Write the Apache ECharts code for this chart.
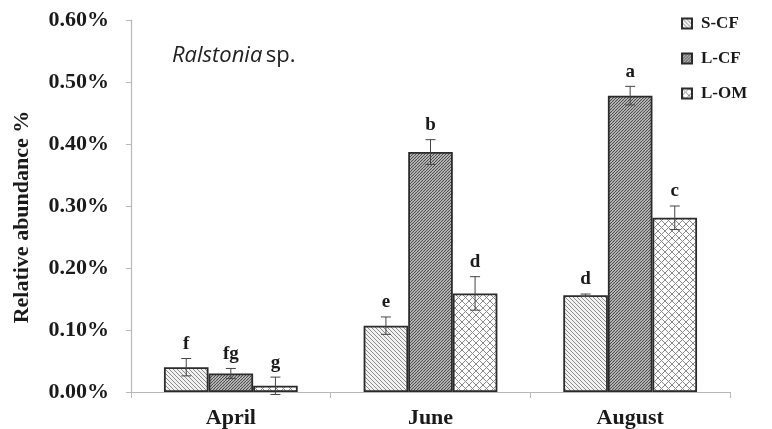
<!DOCTYPE html>
<html>
<head>
<meta charset="utf-8">
<script src="https://cdn.jsdelivr.net/npm/echarts@6/dist/echarts.min.js"></script>
<style>html,body{margin:0;padding:0;background:#fff}#c{width:772px;height:429px}</style>
</head>
<body>
<div id="c"></div>
<script>
const categories = ['April', 'June', 'August'];
const seriesNames = ['S-CF', 'L-CF', 'L-OM'];
const sCF = [0.040, 0.107, 0.156];
const lCF = [0.030, 0.387, 0.478];
const lOM = [0.010, 0.159, 0.281];
const sCFErr = [0.014, 0.014, 0.002];
const lCFErr = [0.008, 0.020, 0.015];
const lOMErr = [0.014, 0.027, 0.019];
const sCFLetters = ['f', 'e', 'd'];
const lCFLetters = ['fg', 'b', 'a'];
const lOMLetters = ['g', 'd', 'c'];
const yTicks = [0, 0.1, 0.2, 0.3, 0.4, 0.5, 0.6];

function hatch(size, bg, fg, lw, dir) {
  const c = document.createElement('canvas');
  c.width = size; c.height = size;
  const g = c.getContext('2d');
  g.fillStyle = bg; g.fillRect(0, 0, size, size);
  g.strokeStyle = fg; g.lineWidth = lw;
  g.beginPath();
  for (let k = -size; k <= size; k += size) {
    if (dir === 'back') { g.moveTo(k, 0); g.lineTo(k + size, size); }
    else { g.moveTo(k, size); g.lineTo(k + size, 0); }
  }
  g.stroke();
  return c;
}
function cross(size, bg, fg, lw) {
  const c = document.createElement('canvas');
  c.width = size; c.height = size;
  const g = c.getContext('2d');
  g.fillStyle = bg; g.fillRect(0, 0, size, size);
  g.strokeStyle = fg; g.lineWidth = lw;
  g.beginPath();
  for (let k = -size; k <= size; k += size) {
    g.moveTo(k, 0); g.lineTo(k + size, size);
    g.moveTo(k, size); g.lineTo(k + size, 0);
  }
  g.stroke();
  return c;
}
const patS = { image: hatch(4, '#f2f2f2', '#8c8c8c', 1, 'back'), repeat: 'repeat' };
const patL = { image: hatch(3, '#d0d0d0', '#4a4a4a', 1.1, 'fwd'), repeat: 'repeat' };
const patO = { image: cross(7, '#ffffff', '#8a8a8a', 1), repeat: 'repeat' };

const values = [sCF, lCF, lOM];
const errs = [sCFErr, lCFErr, lOMErr];
const letters = [sCFLetters, lCFLetters, lOMLetters];
const pats = [patS, patL, patO];
const GAP = 0.33;

const serif = '"Liberation Serif", "Times New Roman", serif';

const series = [];
for (let s = 0; s < 3; s++) {
  series.push({
    name: seriesNames[s], type: 'bar', data: values[s],
    barGap: '0%', barCategoryGap: (GAP * 100) + '%',
    itemStyle: { color: pats[s], borderColor: '#2b2b2b', borderWidth: 1.8 },
    emphasis: { disabled: true }
  });
}
for (let s = 0; s < 3; s++) {
  series.push({
    type: 'custom', z: 5, silent: true,
    data: categories.map((c, i) => [i, values[s][i], errs[s][i]]),
    renderItem: function (params, api) {
      const i = api.value(0), v = api.value(1), e = api.value(2);
      const base = api.coord([i, v]);
      const bw = api.size([1, 0])[0];
      const barW = bw * (1 - GAP) / 3;
      const cx = base[0] + (s - 1) * barW;
      const top = api.coord([i, v + e])[1];
      const bot = api.coord([i, v - e])[1];
      const st = { stroke: '#444', lineWidth: 1 };
      const hw = 5;
      return {
        type: 'group', children: [
          { type: 'line', shape: { x1: cx, y1: top, x2: cx, y2: bot }, style: st },
          { type: 'line', shape: { x1: cx - hw, y1: top, x2: cx + hw, y2: top }, style: st },
          { type: 'line', shape: { x1: cx - hw, y1: bot, x2: cx + hw, y2: bot }, style: st },
          { type: 'text', style: { text: letters[s][params.dataIndex], x: cx, y: top - 5,
              align: 'center', verticalAlign: 'bottom', fill: '#1a1a1a',
              font: 'bold 19px ' + serif } }
        ]
      };
    }
  });
}

const chart = echarts.init(document.getElementById('c'), null, { renderer: 'canvas' });
chart.setOption({
  animation: false,
  backgroundColor: '#fff',
  grid: { left: 131, right: 42, top: 20, bottom: 36, containLabel: false },
  legend: {
    data: seriesNames, orient: 'vertical', left: 676, top: 10,
    itemWidth: 10, itemHeight: 10, itemGap: 18,
    icon: 'rect',
    textStyle: { fontFamily: serif, fontWeight: 'bold', fontSize: 17, color: '#1a1a1a', padding: [0, 0, 0, 4] }
  },
  xAxis: {
    type: 'category', data: categories,
    axisLine: { lineStyle: { color: '#b8b8b8', width: 1.2 } },
    axisTick: { show: true, length: 6, lineStyle: { color: '#b8b8b8' } },
    axisLabel: { fontFamily: serif, fontWeight: 'bold', fontSize: 22, color: '#1a1a1a', margin: 15 }
  },
  yAxis: {
    type: 'value', min: yTicks[0], max: yTicks[yTicks.length - 1], interval: 0.1,
    splitLine: { show: false },
    axisLine: { show: true, lineStyle: { color: '#b8b8b8', width: 1.2 } },
    axisTick: { show: true, length: 5, lineStyle: { color: '#b8b8b8' } },
    axisLabel: { fontFamily: serif, fontWeight: 'bold', fontSize: 22, color: '#1a1a1a', margin: 22,
      formatter: v => v.toFixed(2) + '%' }
  },
  graphic: [
    { type: 'text', x: 22, y: 217, rotation: Math.PI / 2,
      style: { text: 'Relative abundance %', align: 'center', verticalAlign: 'middle',
        font: 'bold 22px ' + serif, fill: '#1a1a1a' } },
    { type: 'text', left: 172, top: 45,
      style: { text: '{i|Ralstonia} {n|sp.}', rich: {
        i: { fontFamily: '"Open Sans", sans-serif', fontStyle: 'italic', fontSize: 22, fill: '#222', color: '#222' },
        n: { fontFamily: '"Open Sans", sans-serif', fontSize: 22, fill: '#222', color: '#222' } } } }
  ],
  series: series
});
</script>
</body>
</html>
